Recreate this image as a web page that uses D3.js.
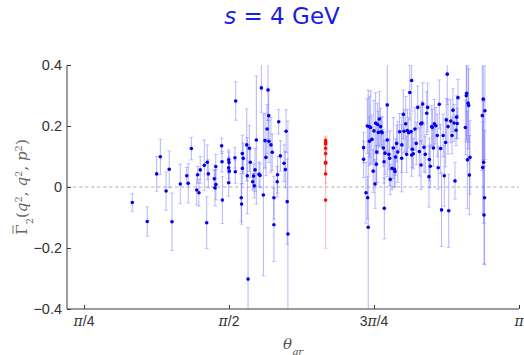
<!DOCTYPE html>
<html>
<head>
<meta charset="utf-8">
<script src="https://cdn.jsdelivr.net/npm/d3@7"></script>
<style>
  html, body { margin: 0; padding: 0; background: #fff; }
  svg { display: block; }
</style>
</head>
<body>
<svg id="chart" width="524" height="355"></svg>
<script>
// Lattice estimates of the reduced vertex Γ̄2 against the angle θ_qr at s = 4 GeV
const thetaBlue = [
  1.047, 1.128, 1.179, 1.199, 1.230, 1.247, 1.262, 1.307, 1.342, 1.350,
  1.367, 1.396, 1.401, 1.408, 1.415, 1.437, 1.450, 1.453, 1.459, 1.491,
  1.495, 1.499, 1.500, 1.531, 1.533, 1.535, 1.569, 1.571, 1.569, 1.569,
  1.572, 1.603, 1.605, 1.607, 1.637, 1.639, 1.643, 1.643, 1.648, 1.667,
  1.670, 1.674, 1.681, 1.686, 1.699, 1.704, 1.708, 1.712, 1.719, 1.733,
  1.739, 1.746, 1.757, 1.766, 1.771, 1.777, 1.782, 1.786, 1.787, 1.798,
  1.805, 1.814, 1.814, 1.832, 1.834, 1.840, 1.849, 1.869, 1.876, 1.880,
  1.886, 1.890,
  2.300, 2.300, 2.313, 2.320, 2.322, 2.325, 2.331, 2.331, 2.338, 2.345,
  2.352, 2.356, 2.362, 2.365, 2.369, 2.371, 2.376, 2.380, 2.385, 2.392,
  2.396, 2.400, 2.407, 2.411, 2.412, 2.416, 2.428, 2.428, 2.437, 2.441,
  2.444, 2.454, 2.461, 2.466, 2.470, 2.473, 2.479, 2.485, 2.495, 2.506,
  2.507, 2.515, 2.519, 2.528, 2.533, 2.537, 2.544, 2.550, 2.557, 2.560,
  2.560, 2.564, 2.569, 2.578, 2.585, 2.593, 2.602, 2.609, 2.611, 2.616,
  2.620, 2.627, 2.634, 2.642, 2.647, 2.654, 2.656, 2.661, 2.669, 2.672,
  2.678, 2.683, 2.691, 2.699, 2.704, 2.710, 2.717, 2.722, 2.731, 2.737,
  2.744, 2.748, 2.753, 2.757, 2.761, 2.772, 2.779, 2.784, 2.790, 2.795,
  2.801, 2.804, 2.807, 2.811, 2.851, 2.856, 2.858, 2.862, 2.866, 2.869,
  2.873, 2.876, 2.943, 2.945, 2.948, 2.950, 2.952, 2.955, 2.957
];
const gammaBlue = [
  -0.051, -0.113, 0.043, 0.099, -0.013, 0.058, -0.114, 0.010, 0.037, 0.012,
  0.126, -0.010, 0.040, -0.019, 0.056, 0.071, -0.117, 0.081, 0.043, 0.027,
  -0.003, 0.067, 0.008, 0.135, 0.083, -0.043, 0.089, 0.080, 0.063, 0.014,
  0.052, 0.096, 0.050, 0.282, -0.035, -0.056, 0.110, 0.061, 0.094, 0.138,
  0.037, -0.302, 0.127, 0.081, 0.017, 0.036, 0.004, 0.056, 0.154, 0.042,
  0.038, 0.325, -0.026, 0.152, 0.097, 0.190, 0.318, 0.234, 0.150, 0.138,
  0.114, -0.035, -0.124, 0.017, 0.040, 0.214, 0.102, 0.078, 0.057, 0.183,
  -0.048, -0.154,
  0.129, 0.091, -0.019, 0.200, -0.035, -0.132, 0.150, 0.198, 0.195, 0.156,
  0.052, 0.184, 0.010, 0.209, 0.075, 0.115, 0.205, 0.179, 0.223, 0.198,
  0.181, 0.178, 0.128, 0.083, -0.070, 0.111, 0.154, 0.269, 0.107, 0.094,
  0.025, 0.061, 0.128, 0.058, 0.051, 0.098, 0.143, 0.115, 0.181, 0.094,
  0.138, 0.238, 0.183, 0.207, 0.107, 0.185, 0.178, 0.310, 0.182, 0.349,
  0.105, 0.124, 0.109, 0.190, 0.143, 0.261, 0.116, 0.207, 0.072, 0.210,
  0.272, 0.130, 0.107, 0.242, 0.261, 0.034, 0.090, 0.068, 0.198, 0.195,
  0.128, 0.207, 0.201, 0.169, 0.063, 0.271, 0.126, -0.075, 0.169, 0.037,
  0.146, 0.220, 0.370, 0.198, -0.078, 0.216, 0.169, 0.252, 0.210, 0.020,
  0.186, 0.229, 0.208, 0.293, 0.195, 0.299, 0.307, 0.089, 0.275, 0.267,
  0.039, 0.097, 0.234, 0.064, 0.288, 0.081, -0.092, -0.035, 0.250
];
const errBlue = [
  0.029, 0.048, 0.057, 0.058, 0.063, 0.060, 0.094, 0.065, 0.027, 0.064,
  0.037, 0.049, 0.027, 0.044, 0.044, 0.083, 0.085, 0.057, 0.046, 0.028,
  0.059, 0.040, 0.050, 0.025, 0.034, 0.077, 0.033, 0.035, 0.035, 0.044,
  0.040, 0.034, 0.038, 0.063, 0.079, 0.066, 0.060, 0.050, 0.050, 0.118,
  0.125, 0.169, 0.076, 0.050, 0.027, 0.040, 0.040, 0.071, 0.210, 0.040,
  0.040, 0.080, 0.265, 0.090, 0.060, 0.080, 0.100, 0.090, 0.070, 0.090,
  0.060, 0.070, 0.120, 0.050, 0.060, 0.040, 0.050, 0.060, 0.060, 0.070,
  0.140, 0.370,
  0.050, 0.060, 0.100, 0.090, 0.070, 0.450, 0.080, 0.100, 0.120, 0.080,
  0.070, 0.100, 0.080, 0.100, 0.060, 0.100, 0.070, 0.070, 0.090, 0.060,
  0.050, 0.050, 0.060, 0.070, 0.100, 0.070, 0.120, 0.150, 0.050, 0.090,
  0.050, 0.070, 0.100, 0.060, 0.050, 0.060, 0.060, 0.100, 0.060, 0.110,
  0.090, 0.080, 0.070, 0.090, 0.060, 0.070, 0.050, 0.090, 0.060, 0.100,
  0.070, 0.060, 0.050, 0.070, 0.070, 0.070, 0.080, 0.060, 0.080, 0.070,
  0.070, 0.080, 0.060, 0.070, 0.080, 0.100, 0.070, 0.070, 0.070, 0.060,
  0.060, 0.080, 0.060, 0.070, 0.070, 0.080, 0.080, 0.120, 0.070, 0.100,
  0.080, 0.070, 0.100, 0.090, 0.120, 0.070, 0.060, 0.070, 0.060, 0.060,
  0.050, 0.070, 0.050, 0.060, 0.090, 0.150, 0.150, 0.160, 0.150, 0.120,
  0.130, 0.120, 0.180, 0.150, 0.200, 0.200, 0.160, 0.220, 0.160
];

// Symmetric configurations at θ = 2π/3
const thetaRed = [2.094, 2.094, 2.094, 2.094, 2.094, 2.094, 2.094, 2.094, 2.094];
const gammaRed = [0.152, 0.146, 0.141, 0.127, 0.110, 0.081, 0.078, 0.043, -0.043];
const errRed   = [0.015, 0.012, 0.020, 0.020, 0.030, 0.040, 0.025, 0.030, 0.158];

const yTicks = [-0.4, -0.2, 0, 0.2, 0.4];
const xTickValues = [Math.PI / 4, Math.PI / 2, 3 * Math.PI / 4, Math.PI];
const xTickLabels = [["", "/4"], ["", "/2"], ["3", "/4"], ["", ""]];

const svg = d3.select("#chart");
const plotLeft = 67, plotRight = 519, plotTop = 65, plotBottom = 309;

const x = d3.scaleLinear().domain([0.6933, Math.PI]).range([plotLeft, plotRight]);
const y = d3.scaleLinear().domain([-0.4, 0.4]).range([plotBottom, plotTop]);

svg.append("defs").append("clipPath").attr("id", "plotClip")
  .append("rect").attr("x", plotLeft).attr("y", plotTop)
  .attr("width", plotRight - plotLeft).attr("height", plotBottom - plotTop);

// zero reference line
svg.append("line")
  .attr("x1", plotLeft).attr("x2", plotRight)
  .attr("y1", y(0)).attr("y2", y(0))
  .attr("stroke", "#b0b0b0").attr("stroke-width", 1)
  .attr("stroke-dasharray", "3.5,2.5");

const plot = svg.append("g").attr("clip-path", "url(#plotClip)");

function drawSeries(th, g, e, barColor, capColor, dotColor) {
  const data = th.map((t, i) => ({ t, g: g[i], e: e[i] }));
  const bars = plot.append("g");
  bars.selectAll("line.bar").data(data).join("line")
    .attr("class", "bar")
    .attr("x1", d => x(d.t)).attr("x2", d => x(d.t))
    .attr("y1", d => y(d.g - d.e)).attr("y2", d => y(d.g + d.e))
    .attr("stroke", barColor).attr("stroke-width", 1);
  const caps = data.flatMap(d => [d.g - d.e, d.g + d.e].map(v => ({ t: d.t, v })));
  bars.selectAll("line.cap").data(caps).join("line")
    .attr("class", "cap")
    .attr("x1", d => x(d.t) - 2).attr("x2", d => x(d.t) + 2)
    .attr("y1", d => y(d.v)).attr("y2", d => y(d.v))
    .attr("stroke", capColor).attr("stroke-width", 1);
  plot.append("g").selectAll("circle").data(data).join("circle")
    .attr("cx", d => x(d.t)).attr("cy", d => y(d.g))
    .attr("r", 1.8).attr("fill", dotColor);
}

drawSeries(thetaBlue, gammaBlue, errBlue, "rgba(80,80,255,0.42)", "rgba(100,100,255,0.35)", "#0000f0");
drawSeries(thetaRed, gammaRed, errRed, "rgba(255,60,60,0.35)", "rgba(255,80,80,0.3)", "#f01010");

// axes
const axisColor = "#3a3a3a";
const yAxis = svg.append("g").attr("transform", `translate(${plotLeft},0)`)
  .call(d3.axisLeft(y).tickValues(yTicks).tickSize(-4).tickPadding(5)
    .tickFormat(d => d === 0 ? "0" : d3.format(".1f")(d)));
const xAxis = svg.append("g").attr("transform", `translate(0,${plotBottom})`)
  .call(d3.axisBottom(x).tickValues(xTickValues).tickSize(-4).tickPadding(4).tickFormat(""));

yAxis.select(".domain").attr("stroke", axisColor).attr("d", `M0,${plotBottom}V${plotTop}`);
xAxis.select(".domain").attr("stroke", axisColor).attr("d", `M${plotLeft},0H${plotRight}`);
[yAxis, xAxis].forEach(a => a.selectAll(".tick line").attr("stroke", axisColor));
yAxis.selectAll(".tick text")
  .attr("fill", "#333").style("font-family", "'Liberation Sans', Arial, sans-serif")
  .style("font-size", "14.5px");

// π-fraction labels on the angle axis
xTickValues.forEach((v, i) => {
  const t = svg.append("text")
    .attr("x", x(v)).attr("y", plotBottom + 17)
    .attr("text-anchor", "middle")
    .attr("fill", "#333")
    .style("font-family", "'Liberation Sans', Arial, sans-serif")
    .style("font-size", "14px");
  t.append("tspan").text(xTickLabels[i][0]);
  t.append("tspan").style("font-family", "'DejaVu Serif', serif").style("font-style", "italic")
    .style("font-size", "14px").text("π");
  t.append("tspan").text(xTickLabels[i][1]);
});

// title
const title = svg.append("text")
  .attr("x", 282).attr("y", 24)
  .attr("text-anchor", "middle")
  .attr("fill", "#1c1cdc")
  .style("font-family", "'DejaVu Sans', sans-serif")
  .style("font-size", "23px");
title.append("tspan").style("font-style", "italic").text("s");
title.append("tspan").text(" = 4 GeV");

// y-axis label, with a bar drawn over the Γ
const ylGroup = svg.append("g")
  .attr("transform", `translate(27,${(plotTop + plotBottom) / 2}) rotate(-90)`);
const yl = ylGroup.append("text")
  .attr("text-anchor", "middle")
  .attr("fill", "#666")
  .style("font-family", "'DejaVu Serif', 'Liberation Serif', serif")
  .style("font-size", "15px");
yl.append("tspan").text("Γ");
yl.append("tspan").attr("baseline-shift", "sub").style("font-size", "10px").text("2");
yl.append("tspan").text("(");
[["q", ", "], ["q", ", "], ["p", ""]].forEach(([v, sep]) => {
  yl.append("tspan").style("font-style", "italic").text(v);
  yl.append("tspan").attr("baseline-shift", "super").style("font-size", "10px").text("2");
  if (sep) yl.append("tspan").text(sep);
});
yl.append("tspan").text(")");
const ylNode = yl.node();
const gStart = ylNode.getStartPositionOfChar(0).x;
const gEnd = ylNode.getEndPositionOfChar(0).x;
ylGroup.append("line")
  .attr("x1", gStart + 1).attr("x2", gEnd - 1)
  .attr("y1", -14).attr("y2", -14)
  .attr("stroke", "#666").attr("stroke-width", 0.9);

// x-axis label
const xl = svg.append("text")
  .attr("x", 293).attr("y", 349)
  .attr("text-anchor", "middle")
  .attr("fill", "#555")
  .style("font-family", "'DejaVu Serif', 'Liberation Serif', serif")
  .style("font-size", "15px");
xl.append("tspan").style("font-style", "italic").text("θ");
xl.append("tspan").attr("baseline-shift", "sub").style("font-style", "italic").style("font-size", "10px").text("qr");
</script>
</body>
</html>
